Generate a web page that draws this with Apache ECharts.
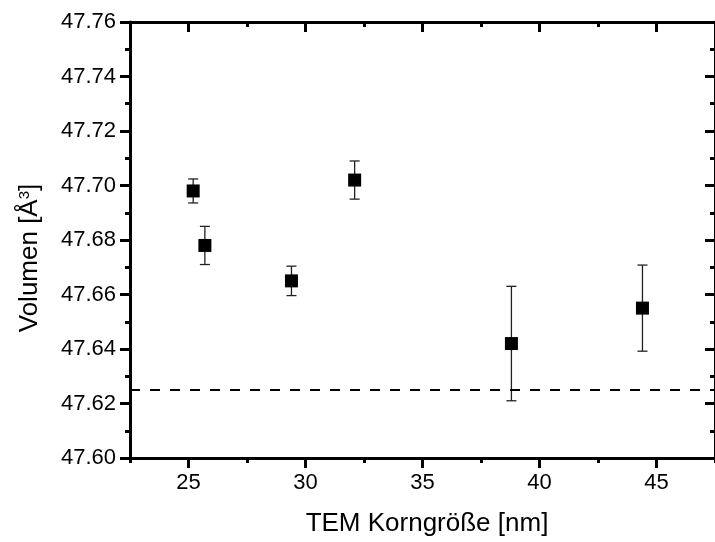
<!DOCTYPE html>
<html><head><meta charset="utf-8">
<script src="https://cdn.jsdelivr.net/npm/echarts@6/dist/echarts.min.js"></script>
<style>html,body{margin:0;padding:0;background:#fff}#c{width:715px;height:542px}</style>
</head><body><div id="c"></div>
<script>
const xValues = [25.2, 25.7, 29.4, 32.1, 38.8, 44.4];
const yValues = [47.698, 47.678, 47.665, 47.702, 47.642, 47.655];
const yErrors = [0.0044, 0.007, 0.0054, 0.007, 0.021, 0.0158];
const refLine = 47.625;
const xMajorTicks = [25, 30, 35, 40, 45];
const xMinorTicks = [22.5, 27.5, 32.5, 37.5, 42.5, 47.5];
const xTitle = 'TEM Korngröße [nm]';
const yTitle = 'Volumen [Å{s|3}]';

const F = '"Liberation Sans", Arial, sans-serif';
const pts = xValues.map((x, i) => [x, yValues[i]]);
const errs = xValues.map((x, i) => [x, yValues[i] - yErrors[i], yValues[i] + yErrors[i]]);

const XR = {min: 22.5, max: 47.5};
const lineS = {color: '#000', width: 3};
function xAx(pos, ticks, len, inside, showLine, showLabel) {
  return Object.assign({type: 'value', position: pos, gridIndex: 0}, XR, {
    interval: 2.5,
    axisLine: {show: showLine, onZero: false, lineStyle: lineS},
    axisTick: {show: true, inside: inside, length: len, customValues: ticks, lineStyle: {color: '#000', width: 3}},
    axisLabel: showLabel ? {show: true, customValues: ticks, margin: 14, fontFamily: F, fontSize: 22, color: '#000'} : {show: false},
    splitLine: {show: false}
  });
}
function yAx(pos, inside, showLabel) {
  return {
    type: 'value', position: pos, min: 47.60, max: 47.76, interval: 0.02,
    axisLine: {show: true, onZero: false, lineStyle: lineS},
    axisTick: {show: true, inside: inside, length: 10, lineStyle: {color: '#000', width: 3}},
    minorTick: {show: true, splitNumber: 2, length: 5, lineStyle: {color: '#000', width: 3}},
    axisLabel: showLabel ? {show: true, margin: 14, fontFamily: F, fontSize: 22, color: '#000', formatter: v => v.toFixed(2)} : {show: false},
    splitLine: {show: false}
  };
}

const chart = echarts.init(document.getElementById('c'));
chart.setOption({
  animation: false,
  backgroundColor: '#fff',
  grid: {left: 130, top: 22, width: 594, height: 436, containLabel: false},
  xAxis: [
    xAx('bottom', xMajorTicks, 10, false, true, true),
    xAx('bottom', xMinorTicks, 5, false, false, false),
    xAx('top', xMajorTicks, 10, true, true, false),
    xAx('top', xMinorTicks, 5, true, false, false)
  ],
  yAxis: [yAx('left', false, true), yAx('right', true, false)],
  graphic: [
    {type: 'text', x: 427, y: 524, style: {text: xTitle, align: 'center', verticalAlign: 'middle', font: '26px ' + F, fill: '#000'}},
    {type: 'text', x: 30, y: 258, rotation: Math.PI / 2,
     style: {text: yTitle, align: 'center', verticalAlign: 'middle', fontFamily: F, fontSize: 26, fill: '#000',
       rich: {s: {fontSize: 15, fontFamily: F, verticalAlign: 'top', padding: [0, 0, 11, 0]}}}}
  ],
  series: [
    {
      type: 'custom', xAxisIndex: 0, yAxisIndex: 0, data: errs, z: 2,
      renderItem: function (params, api) {
        const x = api.value(0);
        const lo = api.coord([x, api.value(1)]);
        const hi = api.coord([x, api.value(2)]);
        const w = 5;
        const st = {stroke: '#222', lineWidth: 1.3};
        return {type: 'group', children: [
          {type: 'line', shape: {x1: lo[0], y1: lo[1], x2: hi[0], y2: hi[1]}, style: st},
          {type: 'line', shape: {x1: lo[0] - w, y1: lo[1], x2: lo[0] + w, y2: lo[1]}, style: st},
          {type: 'line', shape: {x1: hi[0] - w, y1: hi[1], x2: hi[0] + w, y2: hi[1]}, style: st}
        ]};
      }
    },
    {
      type: 'scatter', xAxisIndex: 0, yAxisIndex: 0, data: pts, symbol: 'rect', symbolSize: 13,
      itemStyle: {color: '#000', opacity: 1}, z: 3,
      markLine: {silent: true, symbol: 'none', precision: 4, label: {show: false},
        lineStyle: {color: '#000', width: 2, type: [10, 10], opacity: 1},
        data: [{yAxis: refLine}]}
    }
  ]
});
</script></body></html>
